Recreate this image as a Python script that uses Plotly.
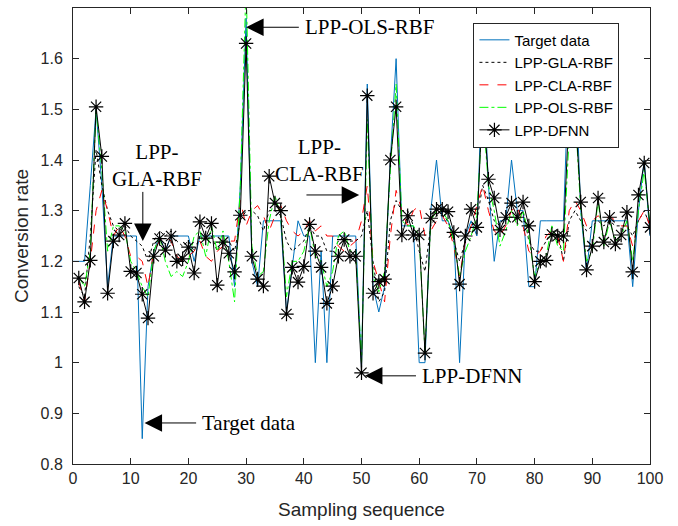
import plotly.graph_objects as go

# ---------------- data ----------------
x_target = list(range(0, 101))
target = [1.20,
          1.20, 1.20, 1.35, 1.50, 1.35, 1.15, 1.25, 1.25, 1.25, 1.25,
          1.25, 0.85, 1.15, 1.22, 1.25, 1.22, 1.25, 1.25, 1.25, 1.25,
          1.20, 1.25, 1.25, 1.25, 1.25, 1.25, 1.25, 1.15, 1.35, 1.68,
          1.20, 1.15, 1.28, 1.28, 1.28, 1.28, 1.10, 1.19, 1.28, 1.25,
          1.25, 1.00, 1.22, 1.00, 1.25, 1.25, 1.25, 1.25, 1.25, 0.99,
          1.55, 1.15, 1.10, 1.15, 1.40, 1.60, 1.27, 1.27, 1.27, 1.00,
          1.00, 1.30, 1.40, 1.28, 1.28, 1.25, 1.00, 1.25, 1.28, 1.25,
          1.60, 1.35, 1.20, 1.28, 1.28, 1.40, 1.30, 1.30, 1.15, 1.15,
          1.28, 1.28, 1.28, 1.28, 1.28, 1.60, 1.60, 1.30, 1.18, 1.28,
          1.28, 1.28, 1.28, 1.28, 1.28, 1.28, 1.15, 1.30, 1.40, 1.25]

x_model = list(range(1, 101))
gla = [1.15, 1.13, 1.25, 1.42, 1.35, 1.30, 1.27, 1.26, 1.27, 1.25,
       1.24, 1.23, 1.20, 1.24, 1.26, 1.25, 1.26, 1.24, 1.23, 1.24,
       1.22, 1.25, 1.24, 1.25, 1.22, 1.24, 1.24, 1.22, 1.28, 1.30,
       1.30, 1.29, 1.26, 1.30, 1.30, 1.29, 1.24, 1.22, 1.23, 1.24,
       1.27, 1.25, 1.25, 1.22, 1.22, 1.24, 1.25, 1.24, 1.24, 1.25,
       1.30, 1.20, 1.12, 1.14, 1.28, 1.32, 1.30, 1.30, 1.27, 1.22,
       1.18, 1.27, 1.29, 1.29, 1.28, 1.24, 1.20, 1.24, 1.27, 1.28,
       1.35, 1.32, 1.28, 1.27, 1.28, 1.30, 1.28, 1.30, 1.24, 1.22,
       1.22, 1.24, 1.26, 1.26, 1.20, 1.28, 1.30, 1.28, 1.26, 1.27,
       1.28, 1.27, 1.28, 1.27, 1.27, 1.27, 1.25, 1.28, 1.30, 1.27]
cla = [1.16, 1.12, 1.20, 1.30, 1.34, 1.30, 1.25, 1.27, 1.25, 1.21,
       1.21, 1.20, 1.15, 1.22, 1.24, 1.25, 1.24, 1.21, 1.20, 1.21,
       1.22, 1.24, 1.21, 1.20, 1.22, 1.23, 1.24, 1.24, 1.32, 1.27,
       1.30, 1.31, 1.29, 1.26, 1.29, 1.31, 1.28, 1.26, 1.25, 1.26,
       1.28, 1.26, 1.27, 1.25, 1.25, 1.23, 1.22, 1.23, 1.24, 1.28,
       1.35, 1.20, 1.16, 1.12, 1.25, 1.34, 1.30, 1.27, 1.30, 1.31,
       1.25, 1.26, 1.28, 1.29, 1.27, 1.23, 1.17, 1.24, 1.27, 1.31,
       1.35, 1.30, 1.26, 1.25, 1.27, 1.30, 1.31, 1.27, 1.22, 1.21,
       1.22, 1.25, 1.26, 1.25, 1.20, 1.30, 1.32, 1.30, 1.27, 1.28,
       1.29, 1.28, 1.29, 1.28, 1.27, 1.27, 1.23, 1.28, 1.30, 1.27]
ols = [1.17, 1.15, 1.22, 1.50, 1.38, 1.22, 1.27, 1.27, 1.26, 1.20,
       1.18, 1.15, 1.13, 1.22, 1.25, 1.20, 1.17, 1.18, 1.17, 1.20,
       1.25, 1.26, 1.21, 1.27, 1.22, 1.26, 1.20, 1.12, 1.35, 1.75,
       1.23, 1.17, 1.18, 1.28, 1.33, 1.29, 1.13, 1.20, 1.20, 1.22,
       1.27, 1.21, 1.20, 1.15, 1.18, 1.25, 1.26, 1.22, 1.22, 1.00,
       1.48, 1.17, 1.14, 1.18, 1.38, 1.55, 1.28, 1.27, 1.27, 1.25,
       1.02, 1.28, 1.30, 1.30, 1.28, 1.24, 1.17, 1.22, 1.25, 1.29,
       1.50, 1.35, 1.30, 1.23, 1.26, 1.30, 1.27, 1.30, 1.25, 1.17,
       1.20, 1.21, 1.27, 1.23, 1.22, 1.45, 1.50, 1.30, 1.20, 1.22,
       1.32, 1.23, 1.28, 1.24, 1.25, 1.28, 1.20, 1.30, 1.38, 1.27]
dfnn = [1.167, 1.120, 1.202, 1.505, 1.407, 1.137, 1.240, 1.252, 1.275, 1.180,
        1.177, 1.135, 1.088, 1.210, 1.245, 1.222, 1.250, 1.200, 1.205, 1.228,
        1.177, 1.278, 1.246, 1.275, 1.153, 1.238, 1.216, 1.179, 1.291, 1.630,
        1.210, 1.165, 1.151, 1.368, 1.315, 1.300, 1.096, 1.188, 1.159, 1.190,
        1.273, 1.220, 1.188, 1.117, 1.151, 1.210, 1.243, 1.210, 1.210, 0.980,
        1.527, 1.137, 1.160, 1.165, 1.400, 1.505, 1.252, 1.290, 1.252, 1.252,
        1.019, 1.285, 1.303, 1.303, 1.298, 1.257, 1.155, 1.250, 1.303, 1.267,
        1.520, 1.362, 1.325, 1.262, 1.287, 1.315, 1.287, 1.317, 1.270, 1.160,
        1.200, 1.202, 1.253, 1.250, 1.250, 1.500, 1.500, 1.317, 1.183, 1.230,
        1.325, 1.238, 1.287, 1.234, 1.252, 1.297, 1.179, 1.331, 1.394, 1.267]

x_ticks = [0, 10, 20, 30, 40, 50, 60, 70, 80, 90, 100]
y_ticks = [0.8, 0.9, 1.0, 1.1, 1.2, 1.3, 1.4, 1.5, 1.6, 1.7]
y_tick_text = ["0.8", "0.9", "1", "1.1", "1.2", "1.3", "1.4", "1.5", "1.6", "1.7"]

# annotations: (label, text anchor x, text anchor y, xanchor, arrow tail x, tail y, tip x, tip y)
callouts = [
    ("LPP-OLS-RBF", 39.9, 1.662, "left", 39.4, 1.662, 30.0, 1.662),
    ("LPP-<br>GLA-RBF", 14.6, 1.39, "center", 12.1, 1.340, 12.1, 1.240),
    ("LPP-<br>CLA-RBF", 42.8, 1.40, "center", 40.2, 1.331, 49.6, 1.331),
    ("LPP-DFNN", 60.1, 0.974, "left", 59.7, 0.974, 50.6, 0.974),
    ("Target data", 22.0, 0.881, "left", 21.6, 0.881, 12.4, 0.881),
]

# ---------------- figure ----------------
fig = go.Figure()
fig.add_trace(go.Scatter(x=x_target, y=target, mode="lines", name="Target data",
                         line=dict(color="#0072BD", width=1)))
fig.add_trace(go.Scatter(x=x_model, y=gla, mode="lines", name="LPP-GLA-RBF",
                         line=dict(color="#000000", width=1, dash="dot")))
fig.add_trace(go.Scatter(x=x_model, y=cla, mode="lines", name="LPP-CLA-RBF",
                         line=dict(color="#FF0000", width=1, dash="dash")))
fig.add_trace(go.Scatter(x=x_model, y=ols, mode="lines", name="LPP-OLS-RBF",
                         line=dict(color="#00FF00", width=1, dash="dashdot")))
fig.add_trace(go.Scatter(x=x_model, y=dfnn, mode="lines+markers", name="LPP-DFNN",
                         line=dict(color="#000000", width=1),
                         marker=dict(symbol="asterisk-open", size=12,
                                     line=dict(color="#000000", width=1.2))))

for label, tx, ty, xa, ax, ay, hx, hy in callouts:
    fig.add_annotation(x=tx, y=ty, text=label, showarrow=False, xanchor=xa,
                       yanchor="middle", xref="x", yref="y",
                       font=dict(family="Liberation Serif", size=21, color="#000000"))
    fig.add_annotation(x=hx, y=hy, ax=ax, ay=ay, axref="x", ayref="y",
                       xref="x", yref="y", text="", showarrow=True,
                       arrowhead=2, arrowsize=3.5, arrowwidth=1, arrowcolor="#000000",
                       standoff=0, startstandoff=0)

axis_common = dict(showline=True, mirror="ticks", linecolor="#262626", linewidth=1,
                   ticks="inside", ticklen=6, tickcolor="#262626", showgrid=False,
                   zeroline=False,
                   tickfont=dict(family="Liberation Sans", size=16, color="#262626"))

fig.update_xaxes(range=[0, 100], tickvals=x_ticks, **axis_common,
                 title=dict(text="Sampling sequence", standoff=16,
                            font=dict(family="Liberation Sans", size=19, color="#262626")))
fig.update_yaxes(range=[0.8, 1.7], tickvals=y_ticks, ticktext=y_tick_text,
                 ticklabelstandoff=6, **axis_common,
                 title=dict(text="Conversion rate", standoff=6,
                            font=dict(family="Liberation Sans", size=19, color="#262626")))

fig.update_layout(
    width=678, height=526,
    margin=dict(l=73, r=28, t=8, b=62),
    paper_bgcolor="white", plot_bgcolor="white",
    showlegend=True,
    legend=dict(x=0.694, y=0.968, xanchor="left", yanchor="top",
                bgcolor="white", bordercolor="#262626", borderwidth=1,
                font=dict(family="Liberation Sans", size=15, color="#000000"),
                tracegroupgap=0, itemwidth=30),
)

fig.write_html("out.html")
